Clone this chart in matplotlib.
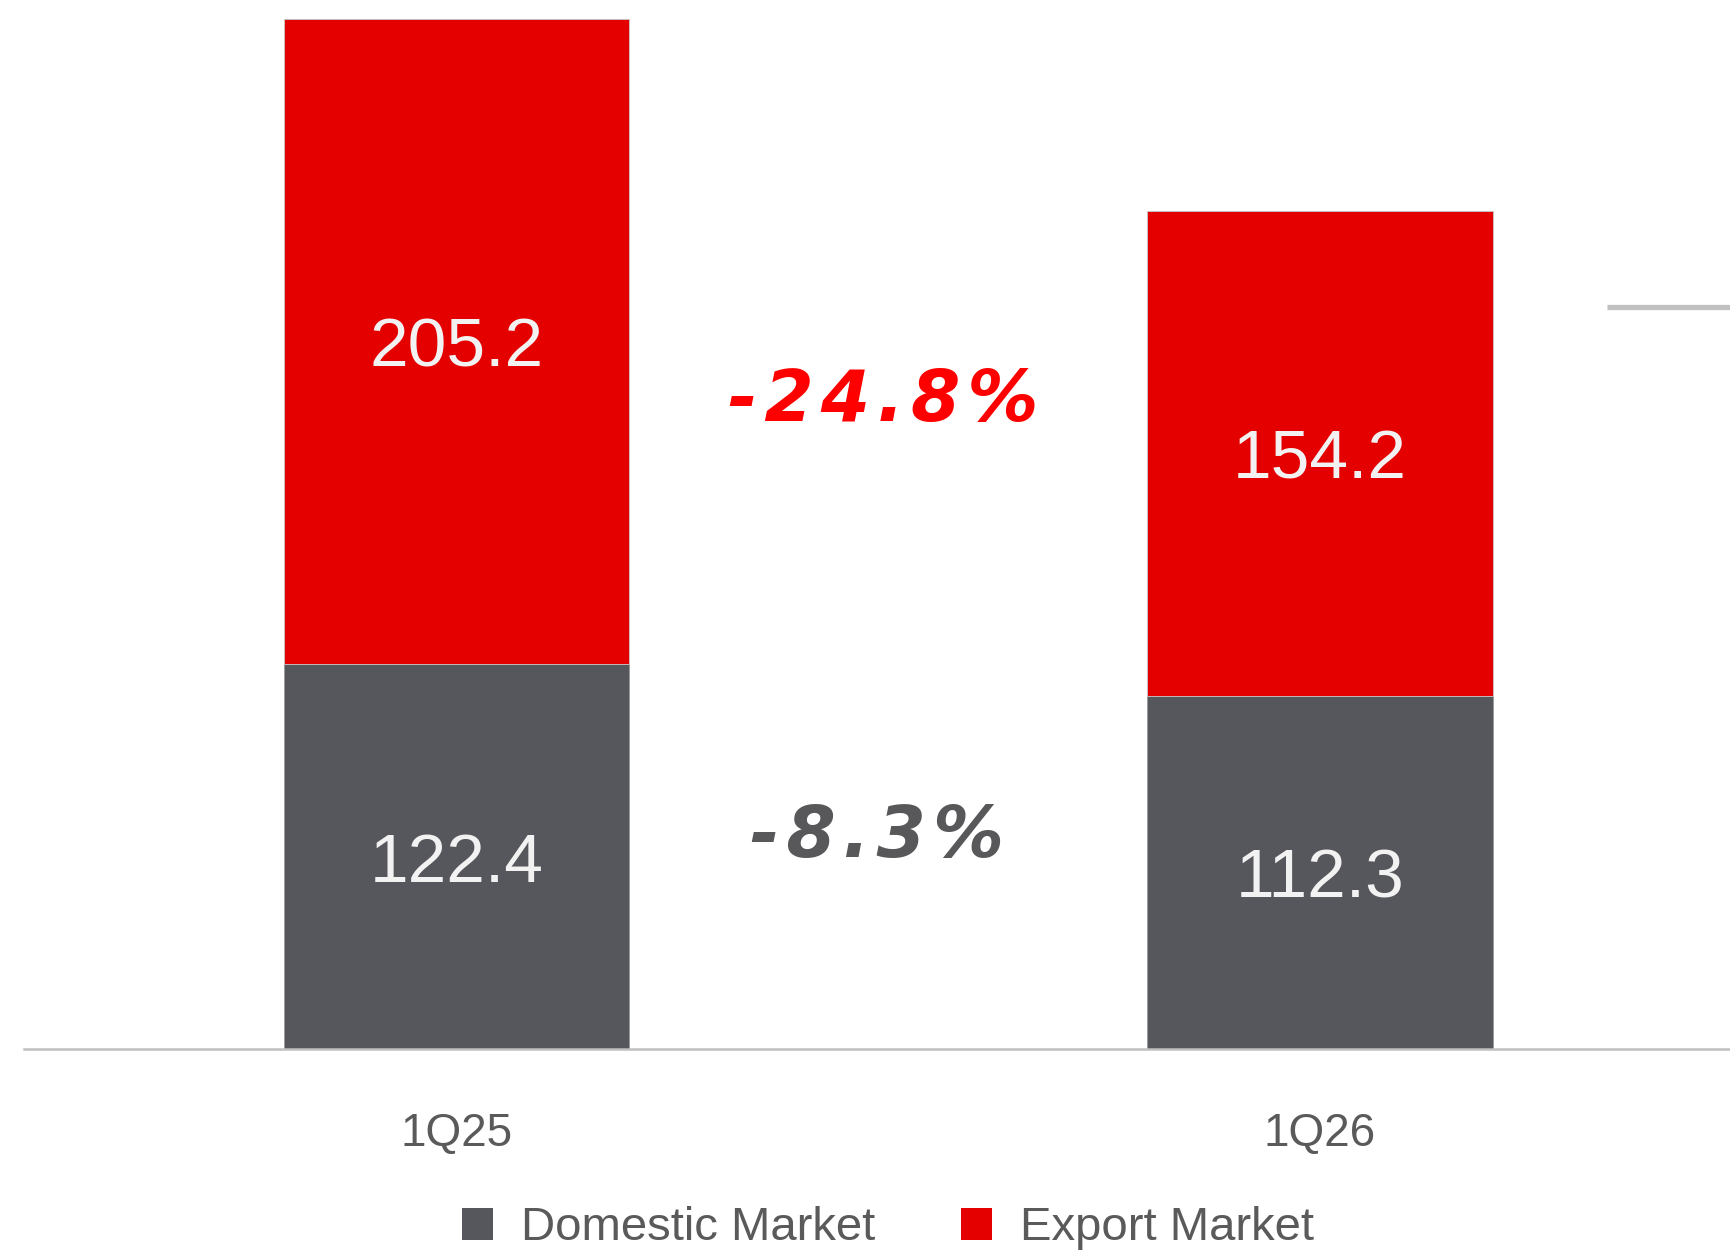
import numpy as np
import matplotlib
matplotlib.use("Agg")
import matplotlib.pyplot as plt

# data
quarters = ["1Q25", "1Q26"]
domestic = np.array([122.4, 112.3])
export = np.array([205.2, 154.2])
export_change = "-24.8%"
domestic_change = "-8.3%"
ref_line = 236  # grey mark cut off at the right edge

red = "#e50000"
grey = "#56575c"
text_grey = "#5a5a5a"

fig = plt.figure(figsize=(17.31, 12.51), dpi=100)
ax = fig.add_axes([24 / 1731, 202 / 1251, 1 - 24 / 1731, 1049 / 1251])

x = np.arange(len(quarters))
w = 0.4
b1 = ax.bar(x, domestic, w, color=grey, edgecolor="#9a9a9a", linewidth=0.6, label="Domestic Market")
b2 = ax.bar(x, export, w, bottom=domestic, color=red, edgecolor="#c8c8c8", linewidth=0.6, label="Export Market")

# values inside bars
for i in range(len(quarters)):
    ax.text(x[i], domestic[i] / 2 - 2.3, f"{domestic[i]:.1f}", ha="center", va="center",
            color="#f2f2f2", fontsize=50, family="Liberation Sans")
    ax.text(x[i], domestic[i] + export[i] / 2 - 2.3, f"{export[i]:.1f}", ha="center", va="center",
            color="#f2f2f2", fontsize=50, family="Liberation Sans")

# spaced-out change labels between bars
def spaced(s):
    return "\u200a".join(s)

ax.text(0.494, 205.8, spaced(export_change), ha="center", va="center", color="#ff0000",
        fontsize=51, fontweight="bold", fontstyle="italic", family="DejaVu Sans")
ax.text(0.487, 67.2, spaced(domestic_change), ha="center", va="center", color="#58585a",
        fontsize=51, fontweight="bold", fontstyle="italic", family="DejaVu Sans")

ax.hlines(ref_line, 1.332, 1.476, color="#c0c0c0", linewidth=3.8)

ax.set_xlim(-0.501, 1.476)
ax.set_ylim(0, 333.5)
ax.set_xticks(x)
ax.set_xticklabels(quarters, fontsize=33, color=text_grey, family="Liberation Sans")
ax.tick_params(axis="x", length=0, pad=45)
ax.set_yticks([])
for s in ["top", "right", "left"]:
    ax.spines[s].set_visible(False)
ax.spines["bottom"].set_color("#c0c0c0")
ax.spines["bottom"].set_linewidth(1.8)

leg = fig.legend(handles=[b1, b2], loc="center", bbox_to_anchor=(0.513, 0.018), ncol=2,
                 frameon=False, handlelength=0.66, handleheight=0.66,
                 handletextpad=0.6, columnspacing=1.8, borderpad=0,
                 prop={"family": "Liberation Sans", "size": 34})
for t in leg.get_texts():
    t.set_color(text_grey)
for h in leg.legend_handles:
    h.set_edgecolor("none")

fig.savefig("out.png", dpi=100)
